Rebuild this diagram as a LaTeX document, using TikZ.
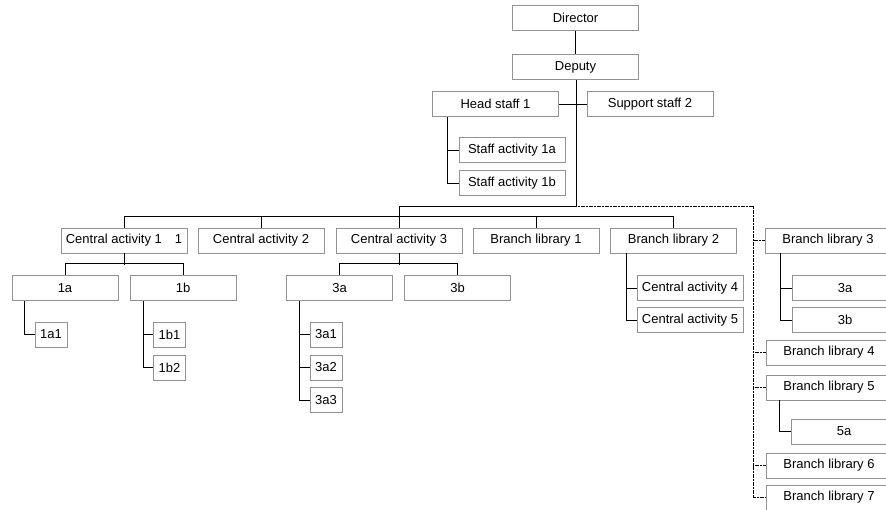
\documentclass[tikz,border=0pt]{standalone}
\usepackage{fontspec}
\setmainfont{Liberation Sans}
\begin{document}
\begin{tikzpicture}[x=1pt,y=-1pt]
            \tikzstyle{boite}=[draw=gray!85,line width=0.8pt,minimum width=126pt,minimum height=25pt,inner sep=0pt,font=\fontsize{13}{15}\selectfont]
            \tikzstyle{moyen}=[boite,minimum width=106pt]
            \tikzstyle{petit}=[boite,minimum width=32pt]
            \tikzset{lien/.style = {line width=0.8pt}}
            \tikzset{pointille/.style = {line width=0.9pt,dash pattern=on 1.2pt off 0.4pt}}
            \clip (0,0) rectangle (886,509);
            \node[boite] (dir) at (575.5,18) {Director};
            \node[boite] (dep) at (575.5,67) {Deputy};
            \node[boite] (hs) at (495.5,104) {Head staff 1};
            \node[boite] (ss) at (650,104) {Support staff 2};
            \node[moyen] (sa1) at (512,150) {Staff activity 1a};
            \node[moyen] (sa2) at (512,183) {Staff activity 1b};
            \node[boite] (ca1) at (124,240.5) {Central activity 1\quad 1};
            \node[boite] (ca2) at (261,240.5) {Central activity 2};
            \node[boite] (ca3) at (399,240.5) {Central activity 3};
            \node[boite] (bl1) at (536,240.5) {Branch library 1};
            \node[boite] (bl2) at (673.5,240.5) {Branch library 2};
            \node[boite] (bl3) at (828,240.5) {Branch library 3};
            \node[moyen] (a1a) at (65,288) {1a};
            \node[moyen] (a1b) at (183,288) {1b};
            \node[moyen] (a3a) at (339.5,288) {3a};
            \node[moyen] (a3b) at (457.5,288) {3b};
            \node[moyen] (ca4) at (690,288) {Central activity 4};
            \node[moyen] (ca5) at (690,320) {Central activity 5};
            \node[moyen] (b3a) at (845,288) {3a};
            \node[moyen] (b3b) at (845,320) {3b};
            \node[petit] (a1a1) at (51,334.5) {1a1};
            \node[petit] (a1b1) at (169.5,334.5) {1b1};
            \node[petit] (a1b2) at (169.5,367.5) {1b2};
            \node[petit] (a3a1) at (326,334.5) {3a1};
            \node[petit] (a3a2) at (326,367.5) {3a2};
            \node[petit] (a3a3) at (326,400) {3a3};
            \node[boite] (bl4) at (829,352.5) {Branch library 4};
            \node[boite] (bl5) at (829,387.5) {Branch library 5};
            \node[moyen] (b5a) at (844,431.5) {5a};
            \node[boite] (bl6) at (829,465.5) {Branch library 6};
            \node[boite] (bl7) at (829,497.5) {Branch library 7};
            \coordinate (jonc) at (576,206);
            \coordinate (b1) at (399,206);
            \coordinate (tronc) at (753,206);
            \draw[lien] (dir) -- (dep);
            \draw[lien] (dep.south -| jonc) -- (jonc) -- (b1) -- (ca3);
            \draw[lien] (hs) -- (ss);
            \draw[lien] ([xshift=15pt]hs.south west) |- (sa1.west);
            \draw[lien] ([xshift=15pt]hs.south west) |- (sa2.west);
            \draw[lien] (ca1.north) -- ++(0,-11) -| (bl2.north);
            \foreach \n in {ca2,bl1} \draw[lien] (\n.north) -- ++(0,-11);
            \draw[lien] (ca1.south) -- ++(0,12);
            \draw[lien] (a1a.north) -- ++(0,-12) -| (a1b.north);
            \draw[lien] (ca3.south) -- ++(0,12);
            \draw[lien] (a3a.north) -- ++(0,-12) -| (a3b.north);
            \draw[lien] ([xshift=13pt]a1a.south west) |- (a1a1.west);
            \foreach \n in {a1b1,a1b2} \draw[lien] ([xshift=14pt]a1b.south west) |- (\n.west);
            \foreach \n in {a3a1,a3a2,a3a3} \draw[lien] ([xshift=13pt]a3a.south west) |- (\n.west);
            \foreach \n in {ca4,ca5} \draw[lien] ([xshift=16pt]bl2.south west) |- (\n.west);
            \foreach \n in {b3a,b3b} \draw[lien] ([xshift=16pt]bl3.south west) |- (\n.west);
            \draw[lien] ([xshift=14pt]bl5.south west) |- (b5a.west);
            \draw[pointille] (jonc) -- (tronc) |- (bl7.west);
            \foreach \n in {bl3,bl4,bl5,bl6} \draw[pointille] (\n.west) -- (\n.west -| tronc);
\end{tikzpicture}
\end{document}
